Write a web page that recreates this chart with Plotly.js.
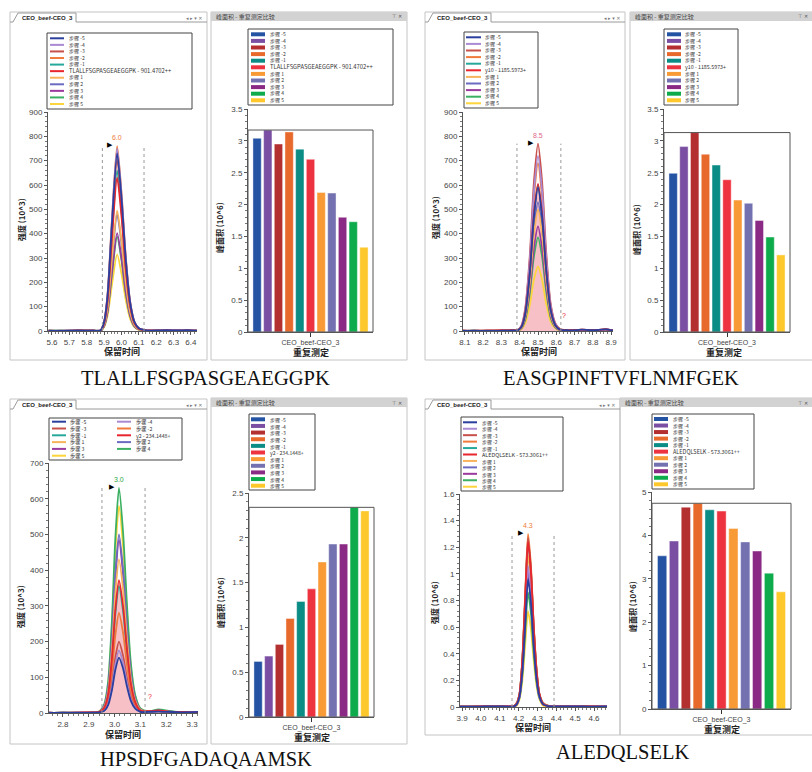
<!DOCTYPE html>
<html>
<head>
<meta charset="utf-8">
<script src="https://cdn.plot.ly/plotly-3.0.1.min.js"></script>
<style>html,body{margin:0;padding:0;background:#fff;}#chart{width:812px;height:772px;}</style>
</head>
<body>
<div id="chart"></div>
<script>
// ---------------- DATA ----------------
const peptides = ['TLALLFSGPASGEAEGGPK', 'EASGPINFTVFLNMFGEK', 'HPSDFGADAQAAMSK', 'ALEDQLSELK'];
const mainNames = ['TLALLFSGPASGEAEGGPK - 901.4702++', 'y10 - 1185.5973+', 'y2 - 234.1448+', 'ALEDQLSELK - 573.3061++'];
const stepLabels = ['步骤 -5', '步骤 -4', '步骤 -3', '步骤 -2', '步骤 -1', '', '步骤 1', '步骤 2', '步骤 3', '步骤 4', '步骤 5'];
const replicate = ['CEO_beef-CEO_3'];

const lineColors = ['#2b3f9e', '#a98ad3', '#c8504b', '#f07b3c', '#26a99b', '#e8262e', '#f8b45c', '#6b6bc2', '#9b3a9f', '#3cb062', '#fcd43c'];
const barColors = ['#2553a3', '#7a4ea2', '#b42f30', '#e8692c', '#0b8c85', '#ee3340', '#f89a35', '#7471b1', '#8b2a84', '#0eab4c', '#fdc82b'];

// Peak areas (10^6)
const area1 = [3.04, 3.17, 2.95, 3.14, 2.87, 2.71, 2.19, 2.18, 1.80, 1.73, 1.33];
const area2 = [2.49, 2.91, 3.13, 2.79, 2.62, 2.39, 2.07, 2.02, 1.75, 1.49, 1.21];
const area3 = [0.62, 0.68, 0.81, 1.10, 1.29, 1.43, 1.73, 1.93, 1.93, 2.34, 2.30];
const area4 = [3.53, 3.87, 4.65, 4.74, 4.59, 4.56, 4.16, 3.85, 3.64, 3.13, 2.70];

// Chromatograms (retention time, intensity)
const time1 = [5.58, 5.65, 5.75, 5.84, 5.88, 5.90, 5.92, 5.945, 5.975, 6.00, 6.025, 6.05, 6.075, 6.10, 6.14, 6.20, 6.26, 6.32, 6.38, 6.44];
const int1 = [
  [1, 0, 2, 1, 3, 37, 146, 438, 730, 548, 292, 117, 37, 11, 3, 2, 4, 2, 3, 1],
  [0, 1, 1, 2, 3, 38, 150, 450, 750, 563, 300, 120, 38, 11, 4, 2, 3, 3, 2, 1],
  [1, 0, 1, 1, 2, 35, 141, 423, 705, 529, 282, 113, 35, 11, 3, 1, 2, 2, 1, 0],
  [0, 1, 2, 1, 3, 38, 152, 456, 760, 570, 304, 122, 38, 11, 3, 2, 3, 1, 2, 1],
  [1, 1, 0, 2, 2, 33, 132, 396, 660, 495, 264, 106, 33, 10, 2, 2, 1, 2, 1, 0],
  [0, 0, 1, 1, 2, 32, 126, 378, 630, 473, 252, 101, 32, 9, 3, 1, 2, 1, 2, 1],
  [1, 0, 1, 2, 2, 25, 99, 297, 495, 371, 198, 79, 25, 7, 2, 2, 1, 2, 1, 0],
  [0, 1, 1, 1, 2, 24, 96, 288, 480, 360, 192, 77, 24, 7, 3, 2, 3, 1, 2, 1],
  [1, 0, 2, 1, 2, 20, 80, 241, 402, 302, 161, 64, 20, 6, 2, 1, 2, 2, 1, 0],
  [0, 1, 1, 1, 1, 19, 78, 233, 388, 291, 155, 62, 19, 6, 2, 2, 1, 1, 2, 1],
  [1, 0, 1, 2, 1, 16, 63, 189, 315, 236, 126, 50, 16, 5, 2, 1, 2, 1, 1, 0]
];
const time2 = [8.09, 8.15, 8.22, 8.30, 8.36, 8.39, 8.41, 8.43, 8.455, 8.478, 8.50, 8.522, 8.545, 8.57, 8.595, 8.62, 8.66, 8.71, 8.74, 8.80, 8.87, 8.91];
const int2 = [
  [0, 1, 0, 1, 2, 3, 18, 71, 236, 472, 590, 472, 248, 83, 24, 6, 3, 4, 6, 3, 7, 2],
  [1, 0, 1, 1, 2, 3, 22, 86, 288, 576, 720, 576, 302, 101, 29, 7, 3, 3, 5, 2, 6, 2],
  [0, 1, 1, 2, 3, 4, 23, 92, 308, 616, 770, 616, 323, 108, 31, 8, 4, 4, 6, 3, 7, 3],
  [1, 0, 1, 1, 2, 3, 21, 83, 276, 552, 690, 552, 290, 97, 28, 7, 3, 3, 5, 3, 6, 2],
  [0, 1, 0, 1, 2, 3, 18, 72, 240, 480, 600, 480, 252, 84, 24, 6, 3, 4, 5, 2, 6, 2],
  [1, 0, 1, 2, 3, 4, 18, 73, 242, 484, 605, 484, 254, 85, 24, 6, 4, 4, 6, 3, 7, 2],
  [0, 1, 1, 1, 2, 2, 15, 60, 200, 400, 500, 400, 210, 70, 20, 5, 3, 3, 4, 2, 5, 1],
  [1, 0, 0, 1, 2, 3, 16, 64, 212, 424, 530, 424, 223, 74, 21, 5, 3, 4, 5, 2, 8, 2],
  [0, 1, 1, 1, 2, 2, 13, 52, 172, 344, 430, 344, 181, 60, 17, 4, 2, 3, 4, 2, 6, 1],
  [1, 0, 1, 1, 1, 2, 12, 46, 154, 308, 385, 308, 162, 54, 15, 4, 2, 3, 4, 2, 5, 1],
  [0, 1, 0, 1, 1, 2, 8, 32, 106, 212, 265, 212, 111, 37, 11, 3, 2, 2, 3, 1, 4, 1]
];
const time3 = [2.746, 2.80, 2.86, 2.91, 2.94, 2.96, 2.975, 2.99, 3.003, 3.017, 3.033, 3.048, 3.063, 3.08, 3.10, 3.13, 3.17, 3.21, 3.26, 3.323];
const int3 = [
  [0, 1, 0, 1, 2, 6, 22, 65, 121, 155, 124, 74, 34, 12, 3, 3, 4, 3, 2, 3],
  [1, 0, 1, 1, 2, 7, 25, 74, 137, 175, 140, 84, 39, 14, 4, 3, 5, 3, 2, 2],
  [0, 1, 1, 1, 2, 8, 28, 84, 156, 200, 160, 96, 44, 16, 4, 4, 5, 3, 2, 3],
  [1, 0, 0, 1, 2, 11, 39, 118, 218, 280, 224, 134, 62, 22, 6, 4, 6, 3, 2, 2],
  [0, 1, 1, 1, 3, 14, 50, 149, 277, 355, 284, 170, 78, 28, 7, 4, 6, 4, 2, 3],
  [1, 0, 1, 2, 3, 15, 52, 156, 290, 372, 298, 179, 82, 30, 7, 5, 7, 4, 3, 2],
  [0, 1, 0, 1, 3, 17, 60, 181, 335, 430, 344, 206, 95, 34, 9, 4, 6, 3, 2, 3],
  [1, 0, 1, 1, 3, 20, 70, 210, 390, 500, 400, 240, 110, 40, 10, 4, 7, 4, 2, 2],
  [0, 1, 1, 1, 3, 19, 68, 204, 378, 485, 388, 233, 107, 39, 10, 4, 6, 4, 2, 3],
  [1, 0, 1, 2, 4, 25, 88, 265, 491, 630, 504, 302, 139, 50, 13, 5, 10, 6, 2, 3],
  [0, 1, 0, 1, 4, 23, 81, 244, 452, 580, 464, 278, 128, 46, 12, 4, 8, 5, 2, 2]
];
const time4 = [3.889, 3.95, 4.02, 4.09, 4.15, 4.175, 4.19, 4.205, 4.22, 4.235, 4.25, 4.265, 4.28, 4.295, 4.31, 4.33, 4.36, 4.42, 4.50, 4.58, 4.669];
const int4 = [
  [0.003, 0.002, 0.004, 0.005, 0.003, 0.005, 0.02, 0.08, 0.27, 0.62, 0.96, 0.79, 0.46, 0.21, 0.08, 0.02, 0.006, 0.004, 0.005, 0.003, 0.004],
  [0.002, 0.003, 0.004, 0.004, 0.004, 0.006, 0.02, 0.08, 0.30, 0.69, 1.06, 0.87, 0.51, 0.23, 0.08, 0.02, 0.007, 0.004, 0.006, 0.003, 0.004],
  [0.003, 0.002, 0.005, 0.004, 0.004, 0.006, 0.03, 0.10, 0.36, 0.83, 1.27, 1.04, 0.61, 0.28, 0.10, 0.03, 0.008, 0.005, 0.006, 0.004, 0.003],
  [0.002, 0.003, 0.004, 0.005, 0.004, 0.007, 0.03, 0.10, 0.36, 0.85, 1.30, 1.07, 0.62, 0.29, 0.10, 0.03, 0.008, 0.005, 0.007, 0.004, 0.004],
  [0.003, 0.002, 0.004, 0.004, 0.003, 0.006, 0.03, 0.10, 0.35, 0.81, 1.25, 1.03, 0.60, 0.28, 0.10, 0.03, 0.007, 0.004, 0.006, 0.003, 0.004],
  [0.002, 0.003, 0.005, 0.004, 0.004, 0.006, 0.02, 0.10, 0.35, 0.81, 1.24, 1.02, 0.60, 0.27, 0.10, 0.02, 0.007, 0.005, 0.005, 0.004, 0.003],
  [0.003, 0.002, 0.004, 0.005, 0.003, 0.005, 0.02, 0.09, 0.32, 0.74, 1.14, 0.93, 0.55, 0.25, 0.09, 0.02, 0.006, 0.004, 0.005, 0.003, 0.004],
  [0.002, 0.003, 0.004, 0.004, 0.004, 0.005, 0.02, 0.08, 0.29, 0.68, 1.05, 0.86, 0.50, 0.23, 0.08, 0.02, 0.006, 0.004, 0.006, 0.003, 0.003],
  [0.003, 0.002, 0.004, 0.004, 0.003, 0.005, 0.02, 0.08, 0.28, 0.65, 1.00, 0.82, 0.48, 0.22, 0.08, 0.02, 0.006, 0.004, 0.005, 0.003, 0.004],
  [0.002, 0.003, 0.003, 0.004, 0.003, 0.005, 0.02, 0.07, 0.24, 0.56, 0.86, 0.71, 0.41, 0.19, 0.07, 0.02, 0.005, 0.004, 0.005, 0.003, 0.003],
  [0.002, 0.002, 0.003, 0.004, 0.003, 0.004, 0.01, 0.06, 0.20, 0.47, 0.72, 0.59, 0.35, 0.16, 0.06, 0.01, 0.005, 0.003, 0.004, 0.003, 0.003]
];

// peak integration boundaries, apex labels and unknown marks
const bounds = [[5.89, 6.13], [8.385, 8.625], [2.951, 3.118], [4.165, 4.388]];
const apexLabels = ['6.0', '8.5', '3.0', '4.3'];
const apexColors = ['#f07b3c', '#e0668a', '#2aa84a', '#f07b3c'];
const unknownX = [null, 8.64, 3.137, null];
const unknownY = [null, 62, 46, null];

// ---------------- LAYOUT HELPERS ----------------
const W = 812, H = 772;
const fx = v => v / W;
const fy = v => 1 - v / H;
const FONT = 'Liberation Sans, Arial, Noto Sans CJK SC, sans-serif';
const CJK = 'Noto Sans CJK SC, Liberation Sans, sans-serif';

const times = [time1, time2, time3, time4];
const ints = [int1, int2, int3, int4];
const areas = [area1, area2, area3, area4];

const cfg = [
  { chrom: { dx: [48, 197], dy: [112, 331], xr: [5.577, 6.435], yr: [0, 900], ydt: 100, ymn: 20, unit: '强度 (10^3)', yt: [21, 220], xt: [122, 351] },
    bar: { dx: [248, 373], dy: [109, 332], yr: [0, 3.5], ydt: 0.5, ymn: 0.1, yt: [220, 228], xt: [311, 352] },
    cleg: { box: [47, 33, 192, 109], r0: 38.3, st: 6.57, ncol: 1, cols: [[50, 64, 68]], bump: 1.15 },
    bleg: { box: [248, 29, 393, 105], r0: 34.3, st: 6.6, cols: [[251, 265, 269]], bump: 1.15 },
    cp: { x0: 10, x1: 207, y0: 12, y1: 360 }, bp: { x0: 211, x1: 407, y0: 12, y1: 360 },
    cap: [205, 378], fill: false },
  { chrom: { dx: [463, 613], dy: [112, 331], xr: [8.09, 8.91], yr: [0, 900], ydt: 100, ymn: 20, unit: '强度 (10^3)', yt: [435, 218], xt: [539, 351] },
    bar: { dx: [664, 790], dy: [109, 332], yr: [0, 3.5], ydt: 0.5, ymn: 0.1, yt: [637, 230], xt: [724, 352] },
    cleg: { box: [464, 32, 538, 108], r0: 37.3, st: 6.6, ncol: 1, cols: [[466, 481, 484]], bump: 1.05 },
    bleg: { box: [664, 29, 738, 105], r0: 34.3, st: 6.6, cols: [[667, 681, 684]], bump: 1.05 },
    cp: { x0: 425, x1: 625, y0: 12, y1: 360 }, bp: { x0: 630, x1: 813, y0: 12, y1: 360 },
    cap: [621, 378], fill: true },
  { chrom: { dx: [49, 198], dy: [463, 713], xr: [2.746, 3.323], yr: [0, 700], ydt: 100, ymn: 20, unit: '强度 (10^3)', yt: [20, 607], xt: [123, 734] },
    bar: { dx: [249, 374], dy: [493, 717], yr: [0, 2.5], ydt: 0.5, ymn: 0.1, yt: [220, 603], xt: [312, 737] },
    cleg: { box: [49, 418, 182, 460], r0: 421.7, st: 6.8, ncol: 2, cols: [[52, 66, 69], [117, 131, 135]], bump: 1.0 },
    bleg: { box: [249, 414, 315, 490], r0: 419.3, st: 6.64, cols: [[251, 265, 269]], bump: 1.0 },
    cp: { x0: 10, x1: 207, y0: 399, y1: 744 }, bp: { x0: 211, x1: 407, y0: 398, y1: 744 },
    cap: [206, 759], fill: true },
  { chrom: { dx: [460, 607], dy: [494, 707], xr: [3.889, 4.669], yr: [0, 1.6], ydt: 0.2, ymn: 0.04, unit: '强度 (10^6)', yt: [434, 602], xt: [533, 727] },
    bar: { dx: [652, 791], dy: [492, 709], yr: [0, 5], ydt: 1, ymn: 0.2, yt: [632, 607], xt: [722, 729] },
    cleg: { box: [461, 417, 563, 491], r0: 422.3, st: 6.44, ncol: 1, cols: [[463, 477, 481]], bump: 1.1 },
    bleg: { box: [652, 414, 754, 489], r0: 419, st: 6.53, cols: [[654, 668, 672]], bump: 1.1 },
    cp: { x0: 425, x1: 620, y0: 399, y1: 735 }, bp: { x0: 620, x1: 813, y0: 398, y1: 735 },
    cap: [622, 752], fill: false }
];

const traces = [];
const shapes = [];
const annotations = [];
const layout = {
  width: W, height: H, margin: { l: 0, r: 0, t: 0, b: 0 },
  paper_bgcolor: '#ffffff', plot_bgcolor: 'rgba(0,0,0,0)',
  showlegend: false, barmode: 'group', bargap: 0.06, bargroupgap: 0.22,
  font: { family: FONT, size: 8, color: '#333' }
};

function txt(x, y, text, opt) {
  annotations.push(Object.assign({
    xref: 'paper', yref: 'paper', x: fx(x), y: fy(y), text: text, showarrow: false, borderpad: 0,
    xanchor: 'left', yanchor: 'middle', font: { family: CJK, size: 7, color: '#333' }
  }, opt || {}));
}
function rect(x0, y0, x1, y1, line, fill) {
  shapes.push({ type: 'rect', xref: 'paper', yref: 'paper', x0: fx(x0), x1: fx(x1), y0: fy(y1), y1: fy(y0),
    line: line || { width: 0 }, fillcolor: fill || 'rgba(0,0,0,0)', layer: 'below' });
}
function seg(x0, y0, x1, y1, color, width, layer) {
  shapes.push({ type: 'line', xref: 'paper', yref: 'paper', x0: fx(x0), x1: fx(x1), y0: fy(y0), y1: fy(y1),
    line: { color: color, width: width }, layer: layer || 'above' });
}
// one multi-line text block per legend column (line spacing = 1.3 * font size)
function legendText(x, rowTop, step, entries, mainIdx, bump) {
  const fs = step / 1.3;
  const lines = entries.map(e => (e.i === mainIdx && bump !== 1) ? '<span style="font-size:' + (fs * bump).toFixed(2) + 'px">' + e.n + '</span>' : e.n);
  const yc = rowTop + (entries.length - 1) * step / 2;
  txt(x, yc, lines.join('<br>'), { align: 'left', font: { family: CJK, size: fs, color: '#333' } });
}

cfg.forEach((c, p) => {
  const cx = 2 * p + 1, bx = 2 * p + 2;
  const cxa = 'x' + (cx === 1 ? '' : cx), cya = 'y' + (cx === 1 ? '' : cx);
  const bxa = 'x' + bx, bya = 'y' + bx;
  const names = stepLabels.map((s, i) => i === 5 ? mainNames[p] : s);

  // ----- panel frames -----
  const cp = c.cp, bp = c.bp;
  rect(cp.x0, cp.y0, cp.x1, cp.y1, { color: '#c4c4c4', width: 1 });
  seg(cp.x0, cp.y0 + 10, cp.x0 + 3, cp.y0 + 10, '#9a9a9a', 1);
  seg(cp.x0 + 66, cp.y0 + 10, cp.x1, cp.y0 + 10, '#9a9a9a', 1);
  shapes.push({ type: 'path', xref: 'paper', yref: 'paper', layer: 'above',
    path: 'M ' + fx(cp.x0 + 3) + ' ' + fy(cp.y0 + 10) + ' L ' + fx(cp.x0 + 8) + ' ' + fy(cp.y0 + 1) +
      ' L ' + fx(cp.x0 + 66) + ' ' + fy(cp.y0 + 1) + ' L ' + fx(cp.x0 + 66) + ' ' + fy(cp.y0 + 10),
    line: { color: '#9a9a9a', width: 1 }, fillcolor: '#ffffff' });
  txt(cp.x0 + 37, cp.y0 + 6, '<b>' + replicate[0] + '</b>', { xanchor: 'center', font: { family: FONT, size: 6, color: '#222' } });
  txt(cp.x1 - 3, cp.y0 + 6, '◂ ▸ ▾ ✕', { xanchor: 'right', font: { family: 'DejaVu Sans', size: 5, color: '#777' } });

  rect(bp.x0, bp.y0, bp.x1, bp.y1, { color: '#c4c4c4', width: 1 });
  rect(bp.x0, bp.y0, bp.x1, bp.y0 + 9, { width: 0 }, '#d2d2d2');
  txt(bp.x0 + 4, bp.y0 + 4.5, '峰面积 - 重复测定比较', { font: { family: CJK, size: 6, color: '#444' } });
  txt(bp.x1 - 4, bp.y0 + 4.5, '⊤ ✕', { xanchor: 'right', font: { family: 'DejaVu Sans', size: 5, color: '#555' } });

  // ----- chromatogram -----
  const t = times[p], I = ints[p];
  const chromMax = Math.max.apply(null, I.map(s => Math.max.apply(null, s)));
  const topIdx = I.findIndex(s => Math.max.apply(null, s) === chromMax);
  const apexT = t[I[topIdx].indexOf(chromMax)];
  if (c.fill) {
    traces.push({ type: 'scatter', mode: 'lines', x: t, y: I[5], xaxis: cxa, yaxis: cya,
      fill: 'tozeroy', fillcolor: 'rgba(242,150,160,0.6)', line: { width: 0, shape: 'spline', smoothing: 0.7 }, hoverinfo: 'skip' });
  }
  const order = [10, 9, 8, 7, 6, 4, 3, 2, 1, 5, 0];
  order.forEach(i => {
    traces.push({ type: 'scatter', mode: 'lines', x: t, y: I[i], name: names[i], xaxis: cxa, yaxis: cya,
      line: { color: lineColors[i], width: 1.8, shape: 'spline', smoothing: 0.7 } });
  });
  const ch = c.chrom;
  layout['xaxis' + (cx === 1 ? '' : cx)] = {
    domain: [fx(ch.dx[0]), fx(ch.dx[1])], range: ch.xr, anchor: cya, showline: true, linecolor: '#555', linewidth: 1,
    ticks: 'outside', ticklen: 3, tickcolor: '#555', dtick: 0.1, tick0: 0, tickformat: '.1f',
    minor: { dtick: 0.02, ticks: 'outside', ticklen: 2, tickcolor: '#777' },
    showgrid: false, zeroline: false, tickfont: { family: FONT, size: 8, color: '#444' }, fixedrange: true
  };
  layout['yaxis' + (cx === 1 ? '' : cx)] = {
    domain: [fy(ch.dy[1]), fy(ch.dy[0])], range: ch.yr, anchor: cxa, showline: true, linecolor: '#555', linewidth: 1,
    ticks: 'outside', ticklen: 3, tickcolor: '#555', dtick: ch.ydt, tick0: 0,
    minor: { dtick: ch.ymn, ticks: 'outside', ticklen: 2, tickcolor: '#777' },
    showgrid: false, zeroline: false, tickfont: { family: FONT, size: 8, color: '#444' }, fixedrange: true
  };
  bounds[p].forEach(b => {
    shapes.push({ type: 'line', xref: cxa, yref: cya, x0: b, x1: b, y0: 0, y1: chromMax,
      line: { color: '#999999', width: 1, dash: 'dot' } });
  });
  annotations.push({ xref: cxa, yref: cya, x: apexT, y: chromMax, text: apexLabels[p], showarrow: false,
    yanchor: 'bottom', yshift: 3, font: { family: FONT, size: 7, color: apexColors[p] } });
  annotations.push({ xref: cxa, yref: cya, x: apexT, y: chromMax, text: '▶', showarrow: false,
    xanchor: 'right', yanchor: 'middle', xshift: -2, yshift: 1, font: { family: 'DejaVu Sans', size: 7, color: '#000' } });
  if (unknownX[p] !== null) {
    annotations.push({ xref: cxa, yref: cya, x: unknownX[p], y: unknownY[p], text: '?', showarrow: false,
      font: { family: FONT, size: 7, color: '#e8262e' } });
  }
  txt(ch.xt[0], ch.xt[1], '<b>保留时间</b>', { xanchor: 'center', font: { family: CJK, size: 9, color: '#222' } });
  txt(ch.yt[0], ch.yt[1], '<b>' + ch.unit + '</b>', { xanchor: 'center', textangle: -90, font: { family: CJK, size: 8, color: '#222' } });

  // chromatogram legend
  const cl = c.cleg;
  rect(cl.box[0], cl.box[1], cl.box[2], cl.box[3], { color: '#444', width: 1 }, '#ffffff');
  const colEntries = cl.cols.map(() => []);
  names.forEach((n, i) => {
    const col = cl.ncol === 2 ? i % 2 : 0;
    const row = cl.ncol === 2 ? Math.floor(i / 2) : i;
    const y = cl.r0 + row * cl.st;
    const cc = cl.cols[col];
    seg(cc[0], y, cc[1], y, lineColors[i], 2);
    colEntries[col].push({ n: n, i: i });
  });
  cl.cols.forEach((cc, k) => legendText(cc[2], cl.r0, cl.st, colEntries[k], 5, cl.bump));

  // ----- bar chart -----
  const A = areas[p];
  A.forEach((v, i) => {
    traces.push({ type: 'bar', x: replicate, y: [v], name: names[i], xaxis: bxa, yaxis: bya,
      marker: { color: barColors[i], line: { color: 'rgba(255,255,255,0.7)', width: 0.6 } } });
  });
  const bc = c.bar;
  layout['xaxis' + bx] = {
    domain: [fx(bc.dx[0]), fx(bc.dx[1])], anchor: bya, type: 'category', showline: true, linecolor: '#555', linewidth: 1,
    ticks: 'outside', ticklen: 4, tickcolor: '#333', showgrid: false, zeroline: false,
    tickfont: { family: FONT, size: 7, color: '#444' }, fixedrange: true
  };
  layout['yaxis' + bx] = {
    domain: [fy(bc.dy[1]), fy(bc.dy[0])], range: bc.yr, anchor: bxa, showline: true, linecolor: '#555', linewidth: 1,
    ticks: 'outside', ticklen: 3, tickcolor: '#555', dtick: bc.ydt, tick0: 0,
    minor: { dtick: bc.ymn, ticks: 'outside', ticklen: 2, tickcolor: '#777' },
    showgrid: false, zeroline: false, tickfont: { family: FONT, size: 8, color: '#444' }, fixedrange: true
  };
  shapes.push({ type: 'rect', xref: bxa + ' domain', yref: bya, x0: 0, x1: 1, y0: 0, y1: Math.max.apply(null, A),
    line: { color: '#555', width: 1 }, layer: 'above' });
  txt(bc.xt[0], bc.xt[1], '<b>重复测定</b>', { xanchor: 'center', font: { family: CJK, size: 9, color: '#222' } });
  txt(bc.yt[0], bc.yt[1], '<b>峰面积 (10^6)</b>', { xanchor: 'center', textangle: -90, font: { family: CJK, size: 8, color: '#222' } });

  const bl = c.bleg;
  rect(bl.box[0], bl.box[1], bl.box[2], bl.box[3], { color: '#444', width: 1 }, '#ffffff');
  names.forEach((n, i) => {
    const y = bl.r0 + i * bl.st;
    const cc = bl.cols[0];
    seg(cc[0], y, cc[1], y, barColors[i], 4);
  });
  legendText(bl.cols[0][2], bl.r0, bl.st, names.map((n, i) => ({ n: n, i: i })), 5, bl.bump);

  // caption
  txt(c.cap[0], c.cap[1], peptides[p], { xanchor: 'center', font: { family: 'Liberation Serif, Times New Roman, serif', size: 20.5, color: '#111' } });
});

layout.shapes = shapes;
layout.annotations = annotations;
Plotly.newPlot('chart', traces, layout, { staticPlot: true, displayModeBar: false });
</script>
</body>
</html>
